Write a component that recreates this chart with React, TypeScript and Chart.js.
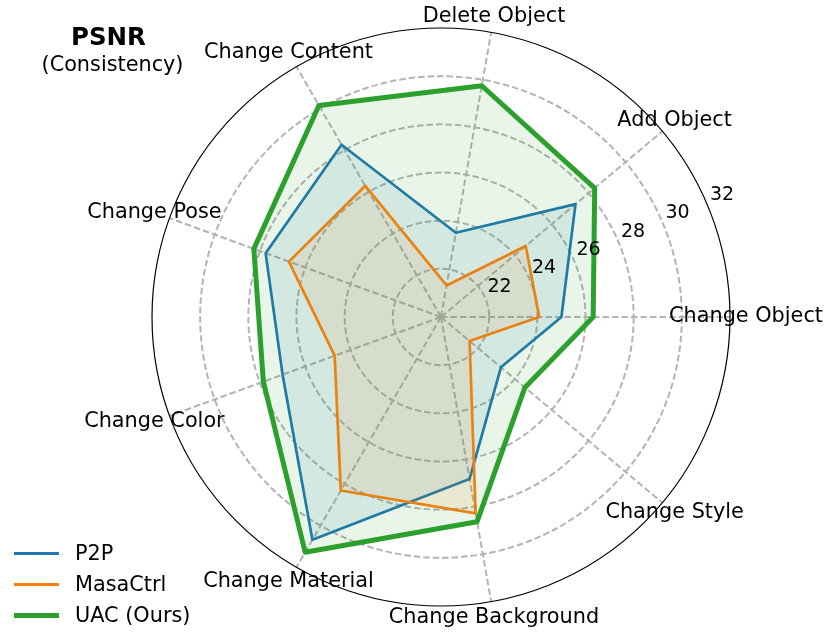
import React, { useEffect, useRef } from "react";
import { Chart, registerables } from "chart.js";

Chart.register(...registerables);

const categories = [
  "Change Object",
  "Change Style",
  "Change Background",
  "Change Material",
  "Change Color",
  "Change Pose",
  "Change Content",
  "Delete Object",
  "Add Object",
];
const p2pValues = [25.0, 23.25, 26.83, 30.68, 27.0, 27.75, 28.26, 23.55, 27.29];
const masaValues = [24.08, 21.55, 28.28, 28.32, 24.7, 26.72, 26.29, 21.33, 24.59];
const uacValues = [26.32, 24.55, 28.63, 31.28, 27.85, 28.27, 30.14, 29.75, 28.33];
const tickLabels = [22, 24, 26, 28, 30, 32];
const seriesNames = ["P2P", "MasaCtrl", "UAC (Ours)"];
const seriesColors = ["#1f77b4", "#ff7f0e", "#2ca02c"];
const scaleMin = 20;
const scaleMax = 32;

const FONT = '"DejaVu Sans", "Liberation Sans", sans-serif';
const GRID = "#b4b4b4";

function rgba(hex: string, a: number) {
  const n = parseInt(hex.slice(1), 16);
  return `rgba(${(n >> 16) & 255},${(n >> 8) & 255},${n & 255},${a})`;
}

const decorPlugin = {
  id: "decor",
  afterDraw(chart: any) {
    const ctx = chart.ctx;
    const scale = chart.scales.r;
    const cx = scale.xCenter;
    const cy = scale.yCenter;
    const R = scale.drawingArea;

    // outer frame circle
    ctx.save();
    ctx.beginPath();
    ctx.strokeStyle = "#000000";
    ctx.lineWidth = 1.2;
    ctx.setLineDash([]);
    ctx.arc(cx, cy, R, 0, Math.PI * 2);
    ctx.stroke();

    // category labels
    ctx.fillStyle = "#000000";
    ctx.font = `20.8px ${FONT}`;
    ctx.textAlign = "center";
    ctx.textBaseline = "middle";
    categories.forEach((label, i) => {
      const p = scale.getPointPosition(i, R * (305 / 289));
      ctx.fillText(label, p.x, p.y);
    });

    // radial tick labels
    ctx.font = `19px ${FONT}`;
    const a = (22.5 * Math.PI) / 180;
    tickLabels.forEach((v) => {
      const r = scale.getDistanceFromCenterForValue(v);
      const x = cx + r * Math.cos(a) + 14;
      const y = cy - r * Math.sin(a) - 11.7;
      ctx.fillText(String(v), x, y);
    });

    // title
    ctx.font = `bold 24.5px ${FONT}`;
    ctx.fillText("PSNR", 108.5, 38.5);
    ctx.font = `20.8px ${FONT}`;
    ctx.fillText("(Consistency)", 112.5, 65.5);

    // legend
    const ys = [553.5, 584.5, 615.5];
    const widths = [3, 3, 5];
    ctx.textAlign = "left";
    seriesNames.forEach((name, i) => {
      ctx.beginPath();
      ctx.strokeStyle = seriesColors[i];
      ctx.lineWidth = widths[i];
      ctx.moveTo(14, ys[i]);
      ctx.lineTo(59, ys[i]);
      ctx.stroke();
      ctx.fillStyle = "#000000";
      ctx.font = `20.8px ${FONT}`;
      ctx.fillText(name, 75, ys[i] + 1);
    });
    ctx.restore();
  },
};

export default function App() {
  const ref = useRef<HTMLCanvasElement | null>(null);

  useEffect(() => {
    if (!ref.current) return;
    const chart = new Chart(ref.current, {
      type: "radar",
      data: {
        labels: categories,
        datasets: [
          {
            label: seriesNames[0],
            data: p2pValues,
            borderColor: seriesColors[0],
            backgroundColor: rgba(seriesColors[0], 0.1),
            borderWidth: 2.7,
            fill: "start",
            pointRadius: 0,
            order: 2,
          },
          {
            label: seriesNames[1],
            data: masaValues,
            borderColor: seriesColors[1],
            backgroundColor: rgba(seriesColors[1], 0.1),
            borderWidth: 2.7,
            fill: "start",
            pointRadius: 0,
            order: 1,
          },
          {
            label: seriesNames[2],
            data: uacValues,
            borderColor: seriesColors[2],
            backgroundColor: rgba(seriesColors[2], 0.1),
            borderWidth: 5,
            fill: "start",
            pointRadius: 0,
            order: 0,
          },
        ],
      },
      options: {
        responsive: false,
        animation: false,
        layout: { padding: { left: 152, right: 101, top: 28, bottom: 37 } },
        elements: {
          line: { tension: 0, borderJoinStyle: "round" },
          point: { radius: 0, hoverRadius: 0 },
        },
        plugins: {
          legend: { display: false },
          title: { display: false },
          tooltip: { enabled: false },
        },
        scales: {
          r: {
            min: scaleMin,
            max: scaleMax,
            startAngle: 90,
            ticks: { display: false, stepSize: 2 },
            pointLabels: { display: false },
            grid: {
              circular: true,
              color: (c: any) =>
                c.tick && c.tick.value === scaleMax ? "rgba(0,0,0,0)" : GRID,
              lineWidth: 2,
            },
            border: { dash: [6.5, 3] },
            angleLines: {
              display: true,
              color: GRID,
              lineWidth: 2,
              borderDash: [6.5, 3],
            },
          },
        },
      },
      plugins: [decorPlugin],
    });
    return () => chart.destroy();
  }, []);

  return (
    <div style={{ position: "absolute", left: 0, top: 0, width: 831, height: 643, background: "#ffffff" }}>
      <canvas ref={ref} width={831} height={643} style={{ display: "block" }} />
    </div>
  );
}
